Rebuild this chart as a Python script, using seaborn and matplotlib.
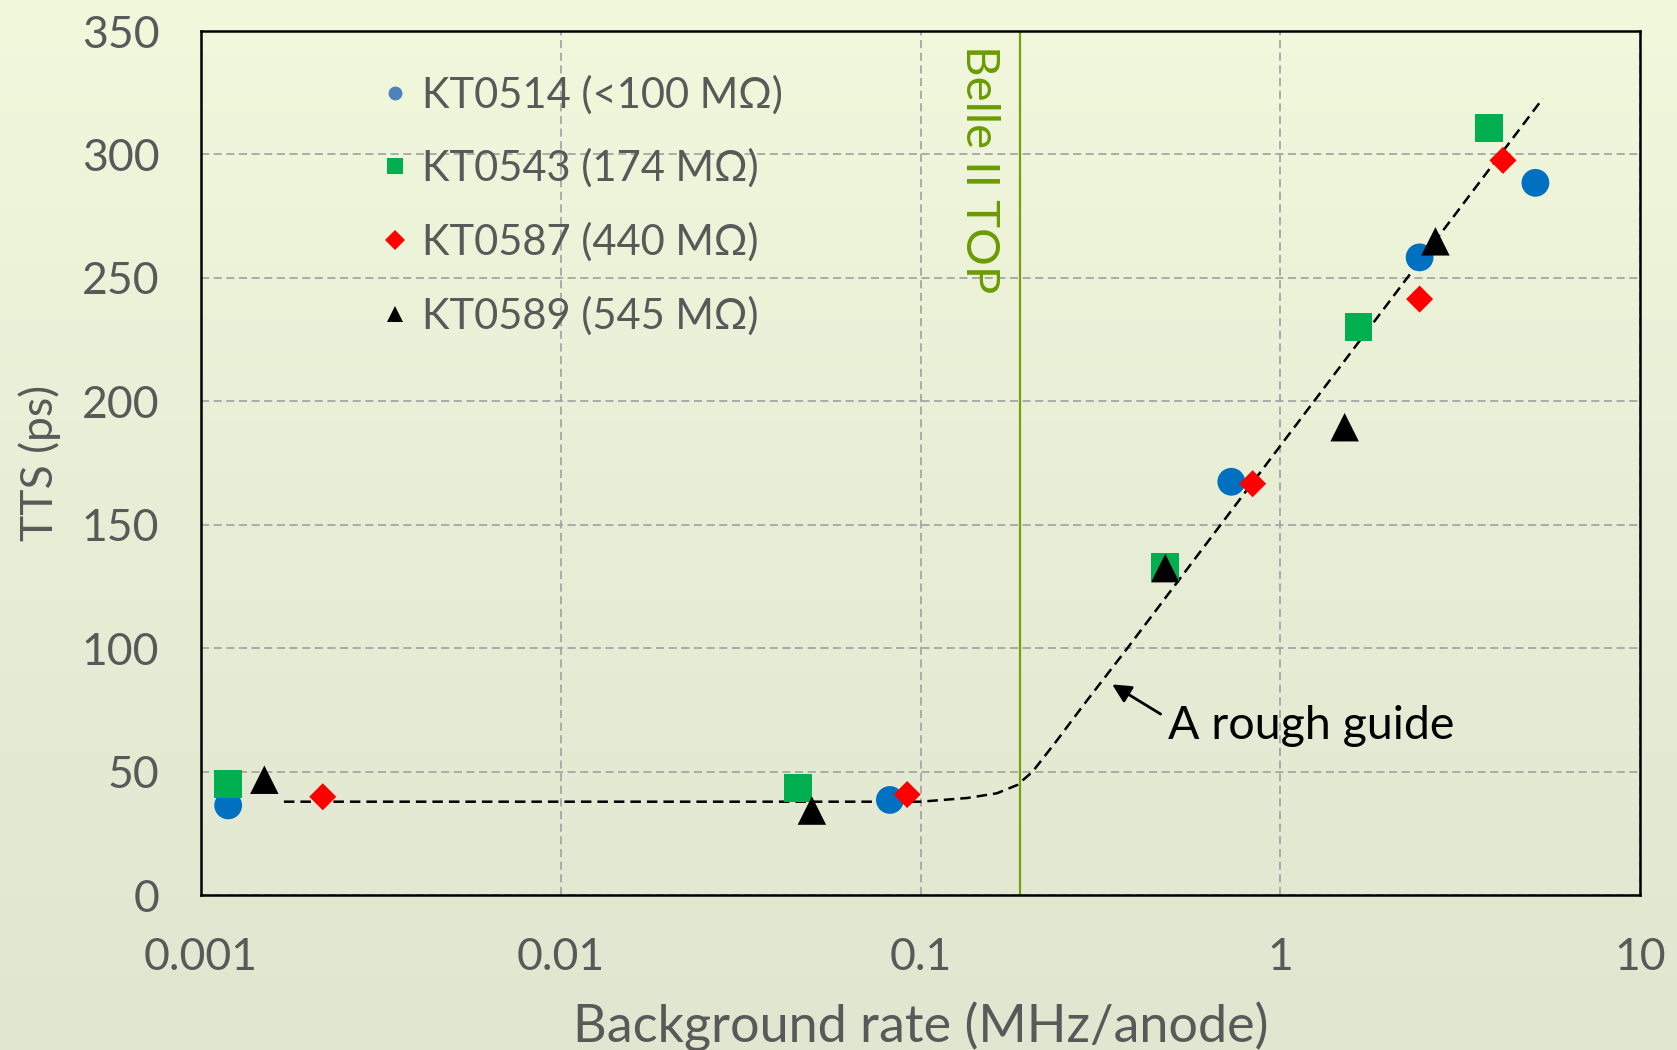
import numpy as np
import pandas as pd
import matplotlib
matplotlib.use("Agg")
import matplotlib.pyplot as plt
import seaborn as sns
from matplotlib.lines import Line2D
from matplotlib.colors import LinearSegmentedColormap

# ---- data ----
labels = ["KT0514 (<100 MΩ)", "KT0543 (174 MΩ)", "KT0587 (440 MΩ)", "KT0589 (545 MΩ)"]

kt0514_x = [0.00119, 0.0822, 0.731, 2.44, 5.12]
kt0514_y = [36.3, 38.5, 167.4, 258.3, 288.5]

kt0543_x = [0.00119, 0.0457, 0.479, 1.65, 3.81]
kt0543_y = [45.0, 43.3, 132.8, 230.1, 310.6]

kt0587_x = [0.00218, 0.0918, 0.838, 2.44, 4.16]
kt0587_y = [39.8, 40.7, 166.6, 241.4, 297.6]

kt0589_x = [0.00150, 0.0499, 0.479, 1.51, 2.70]
kt0589_y = [46.7, 34.2, 132.4, 189.5, 264.8]

guide_x = [0.0017, 0.1, 0.135, 0.163, 0.186, 0.205, 0.24, 0.284, 0.376, 5.37]
guide_y = [37.8, 37.8, 39.3, 41.2, 44.6, 50.0, 62.8, 77.0, 100.0, 322.7]

belle_x = 0.189
x_ticks = [0.001, 0.01, 0.1, 1, 10]
x_ticklabels = ["0.001", "0.01", "0.1", "1", "10"]
y_ticks = [0, 50, 100, 150, 200, 250, 300, 350]

# ---- style ----
sns.set_style("ticks")
plt.rcParams["font.family"] = ["Lato", "DejaVu Sans"]

colors = ["#0070c0", "#00b050", "#ff0000", "#000000"]
legend_colors = ["#4f81bd", "#00b050", "#ff0000", "#000000"]
markers = ["o", "s", "D", "^"]
sizes = [400, 400, 190, 420]
legend_ms = [10, 11, 10, 12]
gray = "#595959"

fig = plt.figure(figsize=(16.77, 10.5), dpi=100)

# background gradient
bg = fig.add_axes([0, 0, 1, 1], zorder=-10)
cmap = LinearSegmentedColormap.from_list("bg", ["#e0e6cf", "#e8eed6", "#f1f8dc"])
grad = np.linspace(0, 1, 256).reshape(-1, 1)
bg.imshow(grad, aspect="auto", cmap=cmap, extent=[0, 1, 0, 1], origin="lower")
bg.axis("off")

ax = fig.add_axes([201 / 1677, 1 - 895 / 1050, (1640 - 201) / 1677, (895 - 31) / 1050])
ax.set_facecolor("none")

series = [(kt0514_x, kt0514_y), (kt0543_x, kt0543_y), (kt0587_x, kt0587_y), (kt0589_x, kt0589_y)]
for (xs, ys), lab, c, m, s in zip(series, labels, colors, markers, sizes):
    df = pd.DataFrame({"x": xs, "y": ys})
    sns.scatterplot(data=df, x="x", y="y", ax=ax, color=c, marker=m, s=s,
                    edgecolor="none", linewidth=0, legend=False, zorder=4)

# rough guide
ax.plot(guide_x, guide_y, color="black", lw=1.8, linestyle=(0, (4.2, 2.4)), zorder=3)

# Belle II TOP line
ax.axvline(belle_x, color="#76a012", lw=1.6, zorder=2)
ax.text(0.145, 344.5, "Belle II TOP", rotation=270, ha="center", va="top",
        color="#6b9a00", fontsize=34)

# annotation
ax.annotate("", xy=(0.341, 85.3), xytext=(0.465, 73.3),
            arrowprops=dict(arrowstyle="-|>", lw=2, color="black", mutation_scale=28,
                            shrinkA=0, shrinkB=0), zorder=5)
ax.text(0.489, 68.3, "A rough guide", ha="left", va="center", fontsize=33.5, color="black")

ax.set_xscale("log")
ax.set_xlim(0.001, 10)
ax.set_ylim(0, 350)
ax.set_xticks(x_ticks)
ax.set_xticklabels(x_ticklabels)
ax.set_yticks(y_ticks)
ax.minorticks_off()
ax.tick_params(axis="both", length=0, labelsize=32, labelcolor=gray, pad=30)

ax.grid(True, which="major", color="#a6a6a6", lw=1.3, linestyle=(0, (4.5, 2.5)))
ax.set_axisbelow(True)
for sp in ax.spines.values():
    sp.set_color("black")
    sp.set_linewidth(1.8)
    sp.set_visible(True)

ax.set_xlabel("Background rate (MHz/anode)", fontsize=37.5, color=gray)
ax.set_ylabel("TTS (ps)", fontsize=32, color=gray)
ax.xaxis.set_label_coords(0.5, -0.124)
ax.yaxis.set_label_coords(-0.097, 0.5)

handles = [Line2D([], [], linestyle="none", marker=m, color=c, markersize=ms, markeredgewidth=0)
           for m, c, ms in zip(markers, legend_colors, legend_ms)]
ax.legend(handles, labels, loc="upper left", bbox_to_anchor=(0.12, 0.949), frameon=False,
          fontsize=30, labelcolor=gray, handlelength=1.0, handletextpad=0.15,
          labelspacing=0.82, borderpad=0, borderaxespad=0)

fig.savefig("out.png", dpi=100)
